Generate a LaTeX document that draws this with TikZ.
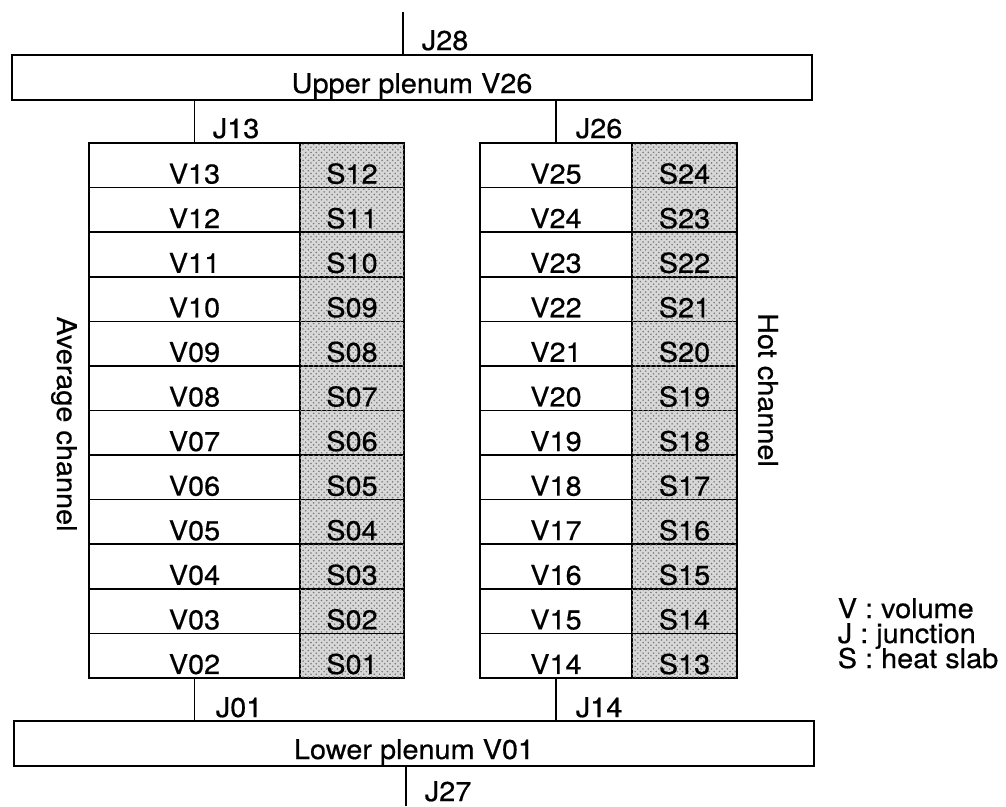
\documentclass[tikz,border=0pt]{standalone}
\usepackage{fontspec}
\setmainfont[FakeStretch=1.06, FakeBold=0.5]{TeX Gyre Heros}
\usetikzlibrary{positioning, patterns}
\definecolor{slab}{HTML}{D8D8D8}
\definecolor{stipple}{HTML}{7A7A7A}

\begin{document}
\begin{tikzpicture}[
    x=0.02cm, y=-0.02cm,
    every node/.style={font=\fontsize{15.5}{18}\selectfont, inner sep=0pt},
    line width=0.9pt,
    plenum/.style={draw, minimum width=16cm, minimum height=0.9cm,
                   text height=0.62cm, text depth=0pt},
    cell/.style={draw, minimum height=0.8917cm, text height=0.73cm, text depth=0pt},
    avgv/.style={cell, minimum width=4.22cm},
    hotv/.style={cell, minimum width=3.04cm},
    slabcell/.style={cell, fill=slab,
                     postaction={pattern=crosshatch dots, pattern color=stipple}},
    avgs/.style={slabcell, minimum width=2.08cm},
    hots/.style={slabcell, minimum width=2.10cm},
    jlbl/.style={anchor=base west},
    side/.style={rotate=-90}
]
    \useasboundingbox (0,0) rectangle (1006,806);

    % plenums
    \node[plenum] (upper) at (412, 77.5)  {Upper plenum V26};
    \node[plenum] (lower) at (414, 743.5) {Lower plenum V01};

    % average channel
    \node[avgv] (v13) at (194.5, 165.3) {V13}; \node[avgs] (s12) at (352, 165.3) {S12};
    \node[avgv] (v12) at (194.5, 209.9) {V12}; \node[avgs] (s11) at (352, 209.9) {S11};
    \node[avgv] (v11) at (194.5, 254.5) {V11}; \node[avgs] (s10) at (352, 254.5) {S10};
    \node[avgv] (v10) at (194.5, 299.0) {V10}; \node[avgs] (s09) at (352, 299.0) {S09};
    \node[avgv] (v09) at (194.5, 343.6) {V09}; \node[avgs] (s08) at (352, 343.6) {S08};
    \node[avgv] (v08) at (194.5, 388.2) {V08}; \node[avgs] (s07) at (352, 388.2) {S07};
    \node[avgv] (v07) at (194.5, 432.8) {V07}; \node[avgs] (s06) at (352, 432.8) {S06};
    \node[avgv] (v06) at (194.5, 477.4) {V06}; \node[avgs] (s05) at (352, 477.4) {S05};
    \node[avgv] (v05) at (194.5, 521.9) {V05}; \node[avgs] (s04) at (352, 521.9) {S04};
    \node[avgv] (v04) at (194.5, 566.5) {V04}; \node[avgs] (s03) at (352, 566.5) {S03};
    \node[avgv] (v03) at (194.5, 611.1) {V03}; \node[avgs] (s02) at (352, 611.1) {S02};
    \node[avgv] (v02) at (194.5, 655.7) {V02}; \node[avgs] (s01) at (352, 655.7) {S01};

    % hot channel
    \node[hotv] (v25) at (556, 165.3) {V25}; \node[hots] (s24) at (684.5, 165.3) {S24};
    \node[hotv] (v24) at (556, 209.9) {V24}; \node[hots] (s23) at (684.5, 209.9) {S23};
    \node[hotv] (v23) at (556, 254.5) {V23}; \node[hots] (s22) at (684.5, 254.5) {S22};
    \node[hotv] (v22) at (556, 299.0) {V22}; \node[hots] (s21) at (684.5, 299.0) {S21};
    \node[hotv] (v21) at (556, 343.6) {V21}; \node[hots] (s20) at (684.5, 343.6) {S20};
    \node[hotv] (v20) at (556, 388.2) {V20}; \node[hots] (s19) at (684.5, 388.2) {S19};
    \node[hotv] (v19) at (556, 432.8) {V19}; \node[hots] (s18) at (684.5, 432.8) {S18};
    \node[hotv] (v18) at (556, 477.4) {V18}; \node[hots] (s17) at (684.5, 477.4) {S17};
    \node[hotv] (v17) at (556, 521.9) {V17}; \node[hots] (s16) at (684.5, 521.9) {S16};
    \node[hotv] (v16) at (556, 566.5) {V16}; \node[hots] (s15) at (684.5, 566.5) {S15};
    \node[hotv] (v15) at (556, 611.1) {V15}; \node[hots] (s14) at (684.5, 611.1) {S14};
    \node[hotv] (v14) at (556, 655.7) {V14}; \node[hots] (s13) at (684.5, 655.7) {S13};

    \node[side] (avgname) at (64, 424) {Average channel};
    \node[side] (hotname) at (768, 390) {Hot channel};

    % junctions
    \coordinate (j28top) at (403, 12);
    \coordinate (j27bot) at (406, 806);
    \draw (j28top) -- (j28top |- upper.north);
    \draw (v13.north) -- (v13.north |- upper.south);
    \draw (v25.north) -- (v25.north |- upper.south);
    \draw (v02.south) -- (v02.south |- lower.north);
    \draw (v14.south) -- (v14.south |- lower.north);
    \draw (lower.south -| j27bot) -- (j27bot);

    \node[jlbl] (j28) at (421, 50)  {J28};
    \node[jlbl] (j13) at (212, 138) {J13};
    \node[jlbl] (j26) at (575, 138) {J26};
    \node[jlbl] (j01) at (215, 717) {J01};
    \node[jlbl] (j14) at (575, 717) {J14};
    \node[jlbl] (j27) at (424, 801) {J27};

    % legend
    \node[jlbl] (legv) at (837, 618) {V : volume};
    \node[jlbl] (legj) at (837, 643) {J : junction};
    \node[jlbl] (legs) at (837, 668) {S : heat slab};
\end{tikzpicture}
\end{document}
